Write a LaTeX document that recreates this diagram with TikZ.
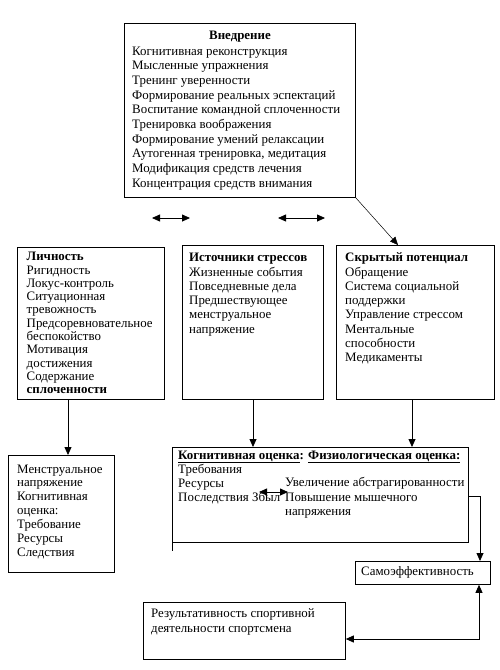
\documentclass[tikz,border=0pt]{standalone}
\usepackage{fontspec}
\setmainfont{Liberation Serif}
\usetikzlibrary{arrows.meta,calc}
\newcommand{\mylines}[1]{\begin{tabular}[t]{@{}l@{}}#1\end{tabular}}
\begin{document}
\begin{tikzpicture}[x=1pt,y=-1pt,
  box/.style={draw, line width=0.8pt, inner sep=0pt, anchor=north west},
  txt/.style={inner sep=0pt, anchor=base west, align=left},
  fa/.style={font=\fontsize{12.9}{14.7}\selectfont},
  fb/.style={font=\fontsize{12.9}{13.3}\selectfont},
  fc/.style={font=\fontsize{12.9}{14.3}\selectfont},
  fd/.style={font=\fontsize{12.9}{13.9}\selectfont},
  fe/.style={font=\fontsize{12.9}{15}\selectfont},
  tip/.tip={Triangle[length=8pt,width=7pt]},
  arr/.style={line width=0.8pt, -tip},
  darr/.style={line width=0.8pt, tip-tip}]
\useasboundingbox (0,0) rectangle (500,670);
% boxes
\node[box, minimum width=231pt, minimum height=174pt] (vn) at (124,23) {};
\node[box, minimum width=147pt, minimum height=152pt] (lich) at (17,247) {};
\node[box, minimum width=141pt, minimum height=154pt] (ist) at (182,245) {};
\node[box, minimum width=158pt, minimum height=154pt] (skr) at (336,245) {};
\node[box, minimum width=106pt, minimum height=117pt] (men) at (8,455) {};
\node[box, minimum width=296pt, minimum height=95pt] (cog) at (172,447) {};
\node[box, minimum width=135pt, minimum height=23pt] (samo) at (355,561) {};
\node[box, minimum width=202pt, minimum height=57pt] (rez) at (143,602) {};
% texts
\node[txt, fa, anchor=base] (vn-h) at (240,39.5) {\textbf{Внедрение}};
\node[txt, fa] (vn-t) at (132,55) {\mylines{Когнитивная реконструкция\\Мысленные упражнения\\Тренинг уверенности\\Формирование реальных эспектаций\\Воспитание командной сплоченности\\Тренировка воображения\\Формирование умений релаксации\\Аутогенная тренировка, медитация\\Модификация средств лечения\\Концентрация средств внимания}};
\node[txt, fb] (lich-t) at (26.5,260.7) {\mylines{\textbf{Личность}\\Ригидность\\Локус-контроль\\Ситуационная\\тревожность\\Предсоревновательное\\беспокойство\\Мотивация\\достижения\\Содержание\\\textbf{сплоченности}}};
\node[txt, fc] (ist-t) at (189,261.7) {\mylines{\textbf{Источники стрессов}\\Жизненные события\\Повседневные дела\\Предшествующее\\менструальное\\напряжение}};
\node[txt, fc] (skr-t) at (345,261.7) {\mylines{\textbf{Скрытый потенциал}\\Обращение\\Система социальной\\поддержки\\Управление стрессом\\Ментальные\\способности\\Медикаменты}};
\node[txt, fd] (men-t) at (17,473) {\mylines{Менструальное\\напряжение\\Когнитивная\\оценка:\\Требование\\Ресурсы\\Следствия}};
\node[txt, fc] (cog-h) at (178,459) {\textbf{\underline{Когнитивная оценка}: \underline{Физиологическая оценка:}}};
\node[txt, fc] (cog-l) at (178,473) {\mylines{Требования\\Ресурсы\\Последствия Збыл}};
\node[txt, fc] (cog-r) at (285,486.7) {\mylines{Увеличение абстрагированности\\Повышение мышечного\\напряжения}};
\node[txt, fc] (samo-t) at (361,575.7) {Самоэффективность};
\node[txt, fe] (rez-t) at (151,617) {\mylines{Результативность спортивной\\деятельности спортсмена}};
% coordinates
\coordinate (a1) at (152,218); \coordinate (a2) at (190,218);
\coordinate (b1) at (278,218); \coordinate (b2) at (325,218);
\coordinate (i1) at (259,492); \coordinate (i2) at (288,492);
\coordinate (x68) at (68,0); \coordinate (x253) at (253,0); \coordinate (x412) at (412,0);
\coordinate (y496) at (0,496); \coordinate (y639) at (0,639);
\coordinate (cogext) at ($(cog.south west)+(0,8)$);
% connectors
\draw[darr] (a1) -- (a2);
\draw[darr] (b1) -- (b2);
\draw[darr] (i1) -- (i2);
\draw[line width=0.5pt, -tip] (vn.south east) -- ($(skr.north west)+(62,0)$);
\draw[arr] (lich.south -| x68) -- (men.north -| x68);
\draw[arr] (ist.south -| x253) -- (cog.north -| x253);
\draw[arr] (skr.south -| x412) -- (cog.north -| x412);
\draw[line width=0.8pt] (cog.south west) -- (cogext);
\draw[arr] (cog.east |- y496) -| ($(samo.north west)+(125,0)$);
\draw[darr] ($(samo.south west)+(124,0)$) |- (rez.east |- y639);
\end{tikzpicture}
\end{document}
